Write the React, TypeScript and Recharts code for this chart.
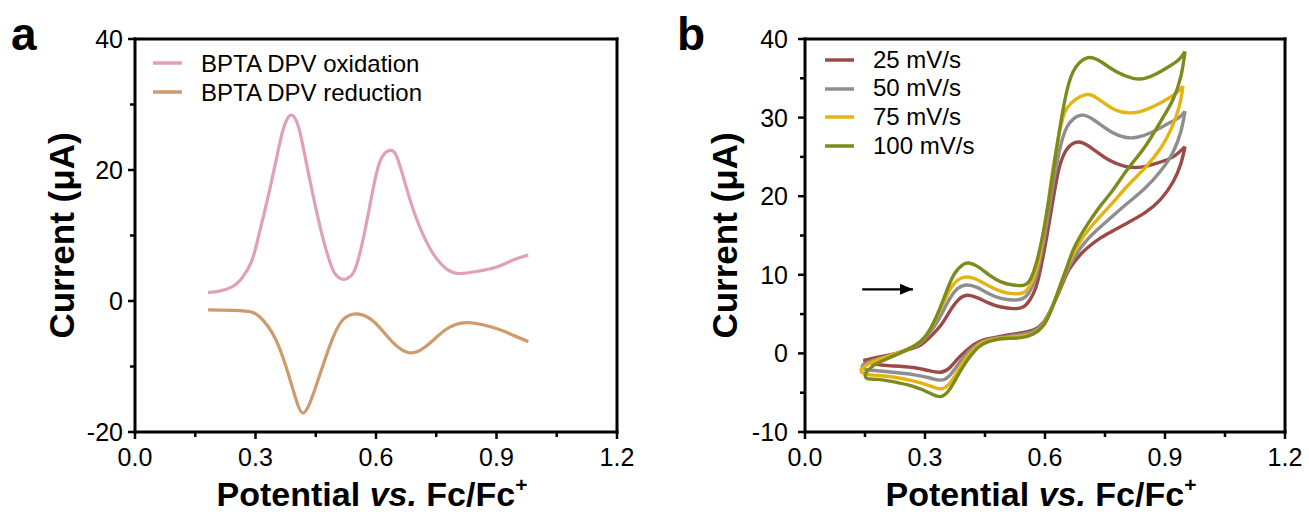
import React from 'react';
import { LineChart, Line, XAxis, YAxis, ReferenceLine } from 'recharts';

const FONT = '"Liberation Sans", Arial, Helvetica, sans-serif';

// ---------- Panel a : DPV (potential V, current µA) ----------
const dpvOxidation: [number, number][] = [
  [0.182, 1.3], [0.21, 1.5], [0.243, 2.2], [0.265, 3.4], [0.29, 6.0], [0.31, 10.5],
  [0.335, 16.9], [0.36, 24.0], [0.375, 27.3], [0.389, 28.4], [0.403, 27.3], [0.417, 24.0],
  [0.442, 16.5], [0.467, 9.8], [0.485, 6.0], [0.5, 4.0], [0.52, 3.3], [0.535, 3.7],
  [0.55, 5.2], [0.571, 10.3], [0.592, 16.9], [0.612, 21.6], [0.635, 23.0], [0.655, 21.5],
  [0.685, 15.4], [0.716, 10.3], [0.747, 6.8], [0.778, 4.8], [0.809, 4.2], [0.85, 4.5],
  [0.9, 5.2], [0.943, 6.3], [0.979, 7.0],
];
const dpvReduction: [number, number][] = [
  [0.182, -1.37], [0.268, -1.5], [0.31, -2.4], [0.351, -5.95], [0.384, -11.6], [0.405, -15.8],
  [0.419, -17.1], [0.433, -15.9], [0.45, -13.1], [0.484, -7.0], [0.517, -2.9], [0.558, -2.0],
  [0.599, -3.4], [0.64, -6.2], [0.682, -7.9], [0.723, -7.0], [0.773, -4.4], [0.83, -3.3],
  [0.905, -4.3], [0.94, -5.2], [0.979, -6.2],
];

// ---------- Panel b : CV at four scan rates ----------
const cv25Forward: [number, number][] = [
  [0.146, -0.9], [0.18, -0.5], [0.22, -0.1], [0.26, 0.5], [0.29, 1.1], [0.315, 2.2], [0.34, 3.6],
  [0.365, 5.6], [0.385, 6.9], [0.405, 7.4], [0.43, 7.1], [0.46, 6.4], [0.49, 5.9], [0.52, 5.7],
  [0.545, 5.9], [0.562, 6.8], [0.578, 8.5], [0.592, 11.5], [0.605, 15], [0.62, 19.5], [0.635, 23.5],
  [0.655, 26.0], [0.685, 26.9], [0.72, 26.0], [0.76, 24.6], [0.8, 23.8], [0.84, 23.7], [0.88, 24.2],
  [0.92, 25.0], [0.95, 26.3],
];
const cv25Reverse: [number, number][] = [
  [0.95, 26.3], [0.94, 24.2], [0.92, 21.8], [0.889, 19.6], [0.85, 17.9], [0.806, 16.6],
  [0.77, 15.6], [0.739, 14.7], [0.71, 13.6], [0.689, 12.6], [0.67, 11.4], [0.655, 10.2],
  [0.635, 7.8], [0.614, 5.5], [0.595, 3.9], [0.572, 3.0], [0.54, 2.6], [0.5, 2.3], [0.472, 2.0],
  [0.445, 1.7], [0.422, 1.1], [0.4, 0.2], [0.38, -0.8], [0.36, -1.9], [0.338, -2.4], [0.31, -2.2],
  [0.27, -1.8], [0.22, -1.6], [0.18, -1.4], [0.146, -0.9],
];
const cv50Forward: [number, number][] = [
  [0.142, -1.5], [0.17, -0.9], [0.21, -0.3], [0.25, 0.4], [0.285, 1.2], [0.31, 2.5], [0.335, 4.4],
  [0.36, 6.8], [0.383, 8.3], [0.405, 8.7], [0.43, 8.4], [0.46, 7.6], [0.49, 7.0], [0.52, 6.8],
  [0.545, 7.0], [0.562, 7.9], [0.578, 9.8], [0.592, 13], [0.606, 17], [0.62, 21.5], [0.635, 25.5],
  [0.655, 28.8], [0.69, 30.3], [0.725, 29.6], [0.765, 28.2], [0.8, 27.5], [0.83, 27.5], [0.87, 28.2],
  [0.91, 29.3], [0.935, 30.0], [0.95, 30.8],
];
const cv50Reverse: [number, number][] = [
  [0.95, 30.8], [0.94, 28.3], [0.92, 25.6], [0.889, 23.2], [0.85, 21.0], [0.806, 19.1],
  [0.77, 17.5], [0.739, 16.1], [0.71, 14.7], [0.689, 13.4], [0.67, 11.9], [0.655, 10.5],
  [0.635, 8.0], [0.614, 5.5], [0.595, 3.8], [0.572, 2.8], [0.54, 2.4], [0.5, 2.1], [0.472, 1.9],
  [0.445, 1.5], [0.422, 0.8], [0.4, -0.3], [0.38, -1.6], [0.36, -2.9], [0.338, -3.4], [0.31, -3.1],
  [0.27, -2.7], [0.22, -2.4], [0.18, -2.2], [0.15, -2.0], [0.142, -1.5],
];
const cv75Forward: [number, number][] = [
  [0.138, -2.2], [0.16, -1.3], [0.2, -0.5], [0.24, 0.2], [0.275, 1.0], [0.3, 2.1], [0.325, 4.2],
  [0.35, 6.9], [0.375, 9.0], [0.4, 9.7], [0.425, 9.5], [0.455, 8.7], [0.49, 7.9], [0.52, 7.6],
  [0.545, 7.7], [0.562, 8.6], [0.578, 10.6], [0.592, 14], [0.606, 18.5], [0.62, 23.5], [0.635, 27.8],
  [0.655, 31.2], [0.7, 32.9], [0.735, 32.3], [0.775, 31.0], [0.81, 30.6], [0.84, 30.8], [0.875, 31.5],
  [0.91, 32.5], [0.93, 33.2], [0.945, 34.0],
];
const cv75Reverse: [number, number][] = [
  [0.945, 34.0], [0.935, 31.3], [0.915, 28.5], [0.889, 26.1], [0.85, 23.6], [0.806, 21.3],
  [0.77, 19.2], [0.739, 17.5], [0.71, 15.8], [0.689, 14.3], [0.67, 12.6], [0.655, 10.9],
  [0.635, 8.2], [0.614, 5.4], [0.595, 3.6], [0.572, 2.6], [0.54, 2.2], [0.5, 2.0], [0.472, 1.8],
  [0.445, 1.4], [0.422, 0.5], [0.4, -0.8], [0.38, -2.4], [0.36, -3.9], [0.338, -4.5], [0.31, -4.1],
  [0.27, -3.5], [0.22, -3.0], [0.18, -2.8], [0.15, -2.6], [0.138, -2.2],
];
const cv100Forward: [number, number][] = [
  [0.15, -2.6], [0.17, -1.6], [0.2, -0.8], [0.24, 0.1], [0.275, 1.0], [0.3, 2.1], [0.325, 4.3],
  [0.35, 7.4], [0.372, 10.0], [0.395, 11.3], [0.41, 11.5], [0.43, 11.1], [0.46, 10.0], [0.49, 9.1],
  [0.52, 8.7], [0.548, 8.7], [0.565, 9.6], [0.58, 11.8], [0.595, 15.2], [0.608, 19], [0.62, 23],
  [0.635, 28], [0.65, 32.3], [0.67, 35.8], [0.705, 37.6], [0.74, 37.1], [0.78, 35.8], [0.82, 35.0],
  [0.85, 35.0], [0.88, 35.6], [0.91, 36.5], [0.935, 37.4], [0.95, 38.4],
];
const cv100Reverse: [number, number][] = [
  [0.95, 38.4], [0.94, 35.3], [0.92, 32.3], [0.889, 29.5], [0.85, 26.3], [0.806, 23.4],
  [0.77, 20.8], [0.739, 18.8], [0.71, 16.7], [0.689, 15.0], [0.67, 13.1], [0.655, 11.0],
  [0.635, 8.2], [0.614, 5.3], [0.595, 3.5], [0.572, 2.5], [0.54, 2.0], [0.5, 1.9], [0.472, 1.7],
  [0.445, 1.2], [0.422, 0.2], [0.4, -1.3], [0.38, -3.0], [0.36, -4.7], [0.338, -5.5], [0.31, -5.0],
  [0.27, -4.2], [0.22, -3.6], [0.18, -3.3], [0.155, -3.2], [0.15, -2.6],
];
const scanArrow: [number, number][] = [[0.143, 8.15], [0.27, 8.15]];

// ---------- axes / labels ----------
const xMajorTicks = [0, 0.3, 0.6, 0.9, 1.2];
const xMinorTicks = [0.15, 0.45, 0.75, 1.05];
const yMajorTicksA = [-20, 0, 20, 40];
const yMinorTicksA = [-10, 10, 30];
const yMajorTicksB = [-10, 0, 10, 20, 30, 40];
const yMinorTicksB = [-5, 5, 15, 25, 35];

const legendA = [
  { label: 'BPTA DPV oxidation', color: '#DFA0BA' },
  { label: 'BPTA DPV reduction', color: '#CD9B6C' },
];
const scanRates = ['25 mV/s', '50 mV/s', '75 mV/s', '100 mV/s'];
const scanColors = ['#9B4A47', '#8E8E8E', '#E5B414', '#7D8B1C'];

const rows = (pts: [number, number][]) => pts.map(([x, y]) => ({ x, y }));
const sorted = (a: number[], b: number[]) => [...a, ...b].sort((p, q) => p - q);
const isIn = (list: number[], v: number) => list.some((m) => Math.abs(m - v) < 1e-9);

const makeXTick = (majors: number[]) => (props: any) => {
  const { x, y, payload } = props;
  const v = payload.value as number;
  const major = isIn(majors, v);
  return (
    <g>
      <line x1={x} y1={y} x2={x} y2={y + (major ? 7 : 5)} stroke="#000" strokeWidth={2.5} />
      {major && (
        <text x={x} y={y + 34} textAnchor="middle" fontFamily={FONT} fontSize={25} fill="#000">
          {v.toFixed(1)}
        </text>
      )}
    </g>
  );
};

const makeYTick = (majors: number[], gap: number) => (props: any) => {
  const { x, y, payload } = props;
  const v = payload.value as number;
  const major = isIn(majors, v);
  return (
    <g>
      <line x1={x - (major ? 7 : 5)} y1={y} x2={x} y2={y} stroke="#000" strokeWidth={2.5} />
      {major && (
        <text x={x - gap} y={y + 9} textAnchor="end" fontFamily={FONT} fontSize={25} fill="#000">
          {String(v)}
        </text>
      )}
    </g>
  );
};

const XTitle = (props: any) => {
  const { viewBox } = props;
  const cx = viewBox.x + viewBox.width / 2 - 4;
  const by = viewBox.y + 74;
  return (
    <text x={cx} y={by} textAnchor="middle" fontFamily={FONT} fontWeight="bold" fontSize={34} fill="#000">
      <tspan>Potential </tspan>
      <tspan fontStyle="italic">vs.</tspan>
      <tspan> Fc/Fc</tspan>
      <tspan fontSize={21} dy={-14}>+</tspan>
    </text>
  );
};

const YTitle = (props: any) => {
  const { viewBox, dist } = props;
  const bx = viewBox.x + viewBox.width - dist;
  const cy = viewBox.y + viewBox.height / 2;
  return (
    <text
      x={bx}
      y={cy}
      transform={`rotate(-90 ${bx} ${cy})`}
      textAnchor="middle"
      fontFamily={FONT}
      fontWeight="bold"
      fontSize={35}
      fill="#000"
    >
      Current (μA)
    </text>
  );
};

const axisLineStyle = { stroke: '#000', strokeWidth: 3, strokeLinecap: 'square' as const };

const ArrowHead = (props: any) => {
  const { cx, cy, index } = props;
  if (index !== scanArrow.length - 1 || cx == null) return <g key={`ah-${index}`} />;
  return (
    <polygon
      key={`ah-${index}`}
      points={`${cx},${cy} ${cx - 13},${cy - 5.5} ${cx - 13},${cy + 5.5}`}
      fill="#000"
    />
  );
};

const legendRow = (label: string, color: string, h: number) => (
  <div key={label} style={{ display: 'flex', alignItems: 'center', height: h, whiteSpace: 'nowrap' }}>
    <svg width={29} height={6} style={{ marginRight: 19, display: 'block' }}>
      <line x1={0} y1={3} x2={29} y2={3} stroke={color} strokeWidth={3.5} />
    </svg>
    <span style={{ lineHeight: `${h}px` }}>{label}</span>
  </div>
);

const panelLetter = (text: string, left: number) => (
  <div
    style={{
      position: 'absolute',
      left,
      top: 11,
      fontFamily: FONT,
      fontWeight: 'bold',
      fontSize: 46,
      lineHeight: '46px',
      color: '#000',
    }}
  >
    {text}
  </div>
);

const cvSeries = [
  [cv25Forward, cv25Reverse],
  [cv50Forward, cv50Reverse],
  [cv75Forward, cv75Reverse],
  [cv100Forward, cv100Reverse],
];

export default function App() {
  return (
    <div style={{ position: 'absolute', left: 0, top: 0, width: 1309, height: 515, background: '#fff', overflow: 'hidden' }}>
      {/* Panel a */}
      <div style={{ position: 'absolute', left: 0, top: 0 }}>
        <LineChart width={650} height={515} margin={{ top: 39, right: 33, bottom: 43, left: 75 }}>
          <XAxis
            dataKey="x"
            type="number"
            domain={[0, 1.2]}
            allowDataOverflow
            ticks={sorted(xMajorTicks, xMinorTicks)}
            interval={0}
            tickSize={0}
            tickMargin={0}
            tickLine={false}
            tick={makeXTick(xMajorTicks)}
            axisLine={axisLineStyle}
            height={40}
            label={<XTitle />}
          />
          <YAxis
            type="number"
            domain={[-20, 40]}
            allowDataOverflow
            ticks={sorted(yMajorTicksA, yMinorTicksA)}
            interval={0}
            tickSize={0}
            tickMargin={0}
            tickLine={false}
            tick={makeYTick(yMajorTicksA, 12)}
            axisLine={axisLineStyle}
            width={60}
            label={<YTitle dist={61} />}
          />
          <ReferenceLine y={40} stroke="#000" strokeWidth={3} strokeLinecap="square" />
          <ReferenceLine x={1.2} stroke="#000" strokeWidth={3} strokeLinecap="square" />
          <Line data={rows(dpvOxidation)} dataKey="y" type="natural" stroke={legendA[0].color} strokeWidth={3.2} dot={false} activeDot={false} isAnimationActive={false} />
          <Line data={rows(dpvReduction)} dataKey="y" type="natural" stroke={legendA[1].color} strokeWidth={3.2} dot={false} activeDot={false} isAnimationActive={false} />
        </LineChart>
        <div style={{ position: 'absolute', left: 153, top: 48.5, fontFamily: FONT, fontSize: 24, color: '#000' }}>
          {legendA.map((it) => legendRow(it.label, it.color, 29))}
        </div>
        {panelLetter('a', 11)}
      </div>

      {/* Panel b */}
      <div style={{ position: 'absolute', left: 650, top: 0 }}>
        <LineChart width={659} height={515} margin={{ top: 39, right: 24, bottom: 43, left: 95 }}>
          <XAxis
            dataKey="x"
            type="number"
            domain={[0, 1.2]}
            allowDataOverflow
            ticks={sorted(xMajorTicks, xMinorTicks)}
            interval={0}
            tickSize={0}
            tickMargin={0}
            tickLine={false}
            tick={makeXTick(xMajorTicks)}
            axisLine={axisLineStyle}
            height={40}
            label={<XTitle />}
          />
          <YAxis
            type="number"
            domain={[-10, 40]}
            allowDataOverflow
            ticks={sorted(yMajorTicksB, yMinorTicksB)}
            interval={0}
            tickSize={0}
            tickMargin={0}
            tickLine={false}
            tick={makeYTick(yMajorTicksB, 17)}
            axisLine={axisLineStyle}
            width={60}
            label={<YTitle dist={68} />}
          />
          <ReferenceLine y={40} stroke="#000" strokeWidth={3} strokeLinecap="square" />
          <ReferenceLine x={1.2} stroke="#000" strokeWidth={3} strokeLinecap="square" />
          {cvSeries.map(([fwd, rev], i) => [
            <Line key={`f${i}`} data={rows(fwd)} dataKey="y" type="natural" stroke={scanColors[i]} strokeWidth={3.4} dot={false} activeDot={false} isAnimationActive={false} />,
            <Line key={`r${i}`} data={rows(rev)} dataKey="y" type="natural" stroke={scanColors[i]} strokeWidth={3.4} dot={false} activeDot={false} isAnimationActive={false} />,
          ])}
          <Line data={rows(scanArrow)} dataKey="y" type="linear" stroke="#000" strokeWidth={2.4} dot={<ArrowHead />} activeDot={false} isAnimationActive={false} />
        </LineChart>
        <div style={{ position: 'absolute', left: 175, top: 45.6, fontFamily: FONT, fontSize: 24, color: '#000' }}>
          {scanRates.map((label, i) => legendRow(label, scanColors[i], 28.7))}
        </div>
        {panelLetter('b', 27)}
      </div>
    </div>
  );
}
